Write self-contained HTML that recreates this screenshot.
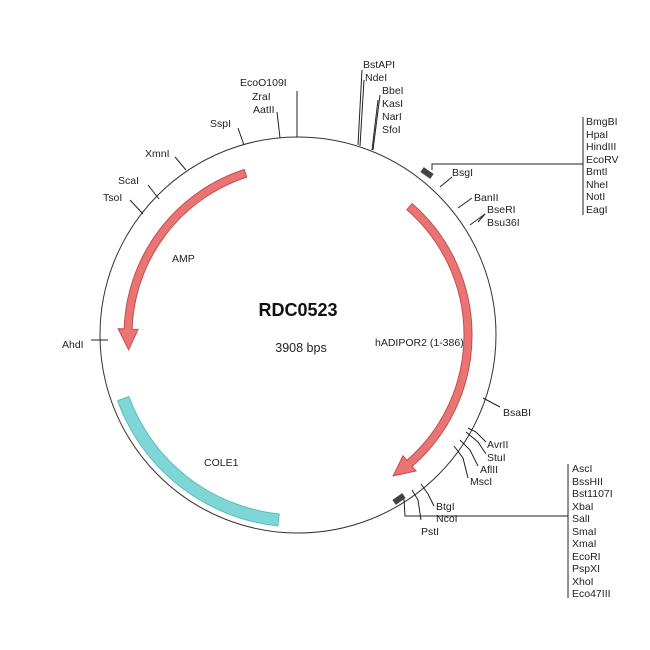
<!DOCTYPE html>
<html><head><meta charset="utf-8"><style>
html,body{margin:0;padding:0;background:#fff;}
svg{display:block;font-family:"Liberation Sans",sans-serif;}
text{font-size:10.5px;fill:#222;}
</style></head><body>
<svg width="650" height="650" viewBox="0 0 650 650">
<circle cx="298" cy="335" r="198" fill="none" stroke="#333" stroke-width="1"/>
<!-- AMP -->
<path d="M244.2,169.5 A174,174 0 0 0 124.1,328.9 L118.1,328.7 L128.6,349.8 L138.1,329.4 L132.1,329.2 A166,166 0 0 1 246.7,177.1 Z" fill="#e87474" stroke="#c84c4c" stroke-width="1"/>
<!-- hADIPOR2 -->
<path d="M412.1,203.6 A174,174 0 0 1 412.1,466.4 L416.1,470.9 L393.1,475.9 L403,455.8 L406.9,460.3 A166,166 0 0 0 406.9,209.7 Z" fill="#e87474" stroke="#c84c4c" stroke-width="1"/>
<!-- COLE1 -->
<path d="M277.9,525.9 A192,192 0 0 1 117.6,400.7 L128.9,396.6 A180,180 0 0 0 279.2,514.0 Z" fill="#7fd6d6" stroke="#5bbcbc" stroke-width="1"/>
<g stroke="#222" stroke-width="1" fill="none">
<line x1="297" y1="91" x2="297" y2="137"/>
<line x1="277" y1="112" x2="280" y2="138"/>
<line x1="238" y1="128" x2="244" y2="145"/>
<line x1="175" y1="157" x2="186" y2="170"/>
<line x1="148" y1="185" x2="159" y2="199"/>
<line x1="130" y1="200" x2="143" y2="214"/>
<line x1="91" y1="340" x2="108" y2="340"/>
<line x1="362" y1="70" x2="358" y2="145"/>
<line x1="364" y1="80" x2="360" y2="146"/>
<line x1="380" y1="95" x2="373" y2="150"/>
<line x1="378" y1="100" x2="372" y2="150"/>
<polyline points="432,170 432,164 583,164"/>
<line x1="583" y1="117" x2="583" y2="215"/>
<line x1="440" y1="187" x2="452" y2="177"/>
<line x1="458" y1="208" x2="472" y2="198"/>
<line x1="470" y1="225" x2="485" y2="214"/>
<line x1="478" y1="222" x2="485" y2="214"/>
<line x1="483" y1="398" x2="500" y2="407"/>
<polyline points="468,428 476,432 486,442"/>
<polyline points="466,432 478,442 486,454"/>
<polyline points="460,440 470,450 478,466"/>
<polyline points="454,446 463,458 468,478"/>
<polyline points="421,484 428,494 434,506"/>
<polyline points="412,490 418,500 421,520"/>
<polyline points="404,499 405,516 568,516"/>
<line x1="568" y1="464" x2="568" y2="598"/>
</g>
<rect x="421" y="170" width="12" height="6" fill="#444" transform="rotate(35 427 173)"/>
<rect x="393" y="496" width="12" height="6" fill="#444" transform="rotate(-35 399 499)"/>
<text x="240" y="86">EcoO109I</text>
<text x="252" y="100">ZraI</text>
<text x="253" y="113">AatII</text>
<text x="210" y="127">SspI</text>
<text x="145" y="157">XmnI</text>
<text x="118" y="184">ScaI</text>
<text x="103" y="201">TsoI</text>
<text x="62" y="348">AhdI</text>
<text x="363" y="68">BstAPI</text>
<text x="365" y="81">NdeI</text>
<text x="382" y="94">BbeI</text>
<text x="382" y="107">KasI</text>
<text x="382" y="120">NarI</text>
<text x="382" y="133">SfoI</text>
<g>
<text x="586" y="125">BmgBI</text>
<text x="586" y="138">HpaI</text>
<text x="586" y="150">HindIII</text>
<text x="586" y="163">EcoRV</text>
<text x="586" y="175">BmtI</text>
<text x="586" y="188">NheI</text>
<text x="586" y="200">NotI</text>
<text x="586" y="213">EagI</text>
</g>
<text x="452" y="176">BsgI</text>
<text x="474" y="201">BanII</text>
<text x="487" y="213">BseRI</text>
<text x="487" y="226">Bsu36I</text>
<text x="503" y="416">BsaBI</text>
<text x="487" y="448">AvrII</text>
<text x="487" y="461">StuI</text>
<text x="480" y="473">AflII</text>
<text x="470" y="485">MscI</text>
<text x="436" y="510">BtgI</text>
<text x="436" y="522">NcoI</text>
<text x="421" y="535">PstI</text>
<g>
<text x="572" y="472">AscI</text>
<text x="572" y="485">BssHII</text>
<text x="572" y="497">Bst1107I</text>
<text x="572" y="510">XbaI</text>
<text x="572" y="522">SalI</text>
<text x="572" y="535">SmaI</text>
<text x="572" y="547">XmaI</text>
<text x="572" y="560">EcoRI</text>
<text x="572" y="572">PspXI</text>
<text x="572" y="585">XhoI</text>
<text x="572" y="597">Eco47III</text>
</g>
<text x="298" y="316" text-anchor="middle" style="font-size:18px;font-weight:bold;fill:#111">RDC0523</text>
<text x="301" y="352" text-anchor="middle" style="font-size:12.5px">3908 bps</text>
<text x="375" y="346">hADIPOR2 (1-386)</text>
<text x="172" y="262">AMP</text>
<text x="204" y="466">COLE1</text>
</svg>
</body></html>
